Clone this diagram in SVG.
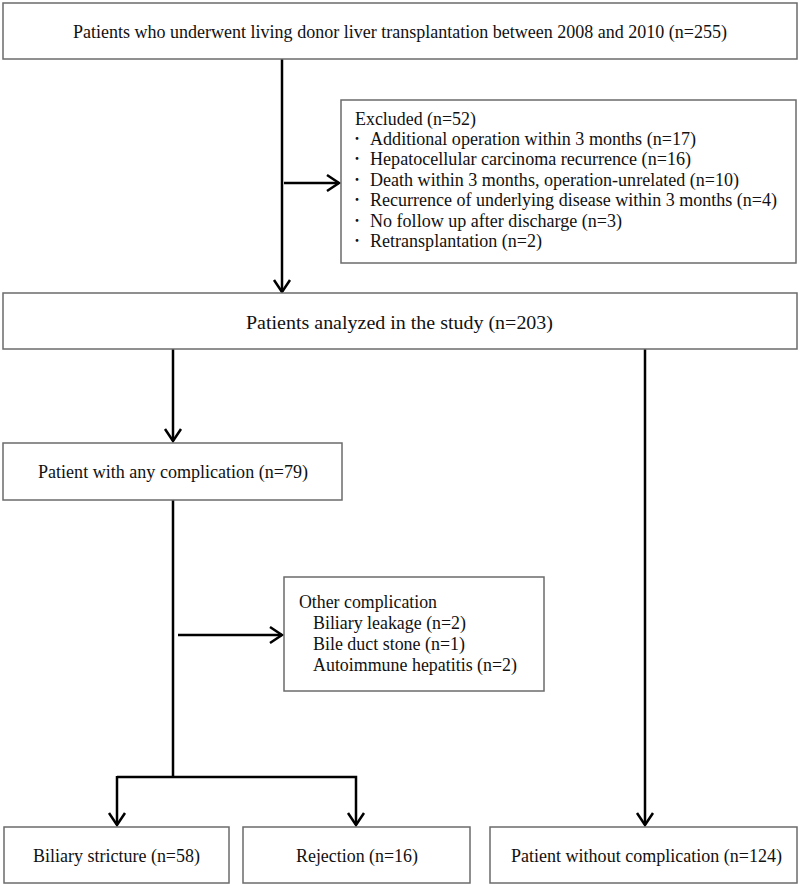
<svg xmlns="http://www.w3.org/2000/svg" width="800" height="886" viewBox="0 0 800 886">
<style>
.box{fill:#fff;stroke:#6b6b6b;stroke-width:1.5}
.t{font-family:"Liberation Serif","DejaVu Serif",serif;font-size:18px;fill:#111}
.b{font-family:"Noto Sans CJK JP","Liberation Serif",serif;font-size:13px;fill:#111}
.ln{fill:none;stroke:#000;stroke-width:2.5}
</style>
<defs>
<marker id="ah" markerUnits="userSpaceOnUse" markerWidth="16" markerHeight="20" viewBox="0 0 16 20" refX="13" refY="10" orient="auto">
<path d="M1,2 L13,10 L1,18" fill="none" stroke="#000" stroke-width="2.5"/>
</marker>
</defs>
<rect width="800" height="886" fill="#fff"/>
<g id="connectors">
<line class="ln" x1="282" y1="59" x2="282" y2="292" marker-end="url(#ah)"/>
<line class="ln" x1="284" y1="183" x2="339" y2="183" marker-end="url(#ah)"/>
<line class="ln" x1="173" y1="349" x2="173" y2="441" marker-end="url(#ah)"/>
<line class="ln" x1="645" y1="349" x2="645" y2="825" marker-end="url(#ah)"/>
<line class="ln" x1="173" y1="500" x2="173" y2="777"/>
<line class="ln" x1="178" y1="635" x2="282" y2="635" marker-end="url(#ah)"/>
<polyline class="ln" points="117,777 356,777 356,825" marker-end="url(#ah)"/>
<line class="ln" x1="117" y1="776" x2="117" y2="825" marker-end="url(#ah)"/>
</g>
<g id="n-all">
<rect class="box" x="3" y="3" width="794" height="56"/>
<text class="t" x="73" y="38" textLength="654" lengthAdjust="spacingAndGlyphs">Patients who underwent living donor liver transplantation between 2008 and 2010 (n=255)</text>
</g>
<g id="n-excluded">
<rect class="box" x="341" y="100" width="455" height="163"/>
<text class="t" x="355" y="125" textLength="121" lengthAdjust="spacingAndGlyphs">Excluded (n=52)</text>
<g class="b">
<text x="350.5" y="143">・</text>
<text x="350.5" y="163">・</text>
<text x="350.5" y="184">・</text>
<text x="350.5" y="204">・</text>
<text x="350.5" y="225">・</text>
<text x="350.5" y="245">・</text>
</g>
<text class="t" x="370" y="145" textLength="326" lengthAdjust="spacingAndGlyphs">Additional operation within 3 months (n=17)</text>
<text class="t" x="370" y="165" textLength="321" lengthAdjust="spacingAndGlyphs">Hepatocellular carcinoma recurrence (n=16)</text>
<text class="t" x="370" y="186" textLength="369" lengthAdjust="spacingAndGlyphs">Death within 3 months, operation-unrelated (n=10)</text>
<text class="t" x="370" y="206" textLength="407" lengthAdjust="spacingAndGlyphs">Recurrence of underlying disease within 3 months (n=4)</text>
<text class="t" x="370" y="227" textLength="252" lengthAdjust="spacingAndGlyphs">No follow up after discharge (n=3)</text>
<text class="t" x="370" y="247" textLength="172" lengthAdjust="spacingAndGlyphs">Retransplantation (n=2)</text>
</g>
<g id="n-analyzed">
<rect class="box" x="3" y="293" width="794" height="56"/>
<text class="t" x="246" y="329" textLength="307" lengthAdjust="spacingAndGlyphs">Patients analyzed in the study (n=203)</text>
</g>
<g id="n-complication">
<rect class="box" x="3" y="443" width="339" height="57"/>
<text class="t" x="38" y="478" textLength="270" lengthAdjust="spacingAndGlyphs">Patient with any complication (n=79)</text>
</g>
<g id="n-other">
<rect class="box" x="284" y="577" width="260" height="114"/>
<text class="t" x="299" y="608" textLength="138" lengthAdjust="spacingAndGlyphs">Other complication</text>
<text class="t" x="313" y="629" textLength="153" lengthAdjust="spacingAndGlyphs">Biliary leakage (n=2)</text>
<text class="t" x="313" y="650" textLength="152" lengthAdjust="spacingAndGlyphs">Bile duct stone (n=1)</text>
<text class="t" x="313" y="671" textLength="204" lengthAdjust="spacingAndGlyphs">Autoimmune hepatitis (n=2)</text>
</g>
<g id="n-stricture">
<rect class="box" x="4" y="827" width="225" height="56"/>
<text class="t" x="33" y="862" textLength="167" lengthAdjust="spacingAndGlyphs">Biliary stricture (n=58)</text>
</g>
<g id="n-rejection">
<rect class="box" x="243" y="827" width="227" height="56"/>
<text class="t" x="296" y="862" textLength="122" lengthAdjust="spacingAndGlyphs">Rejection (n=16)</text>
</g>
<g id="n-without">
<rect class="box" x="490" y="827" width="307" height="56"/>
<text class="t" x="511" y="862" textLength="271" lengthAdjust="spacingAndGlyphs">Patient without complication (n=124)</text>
</g>
</svg>
